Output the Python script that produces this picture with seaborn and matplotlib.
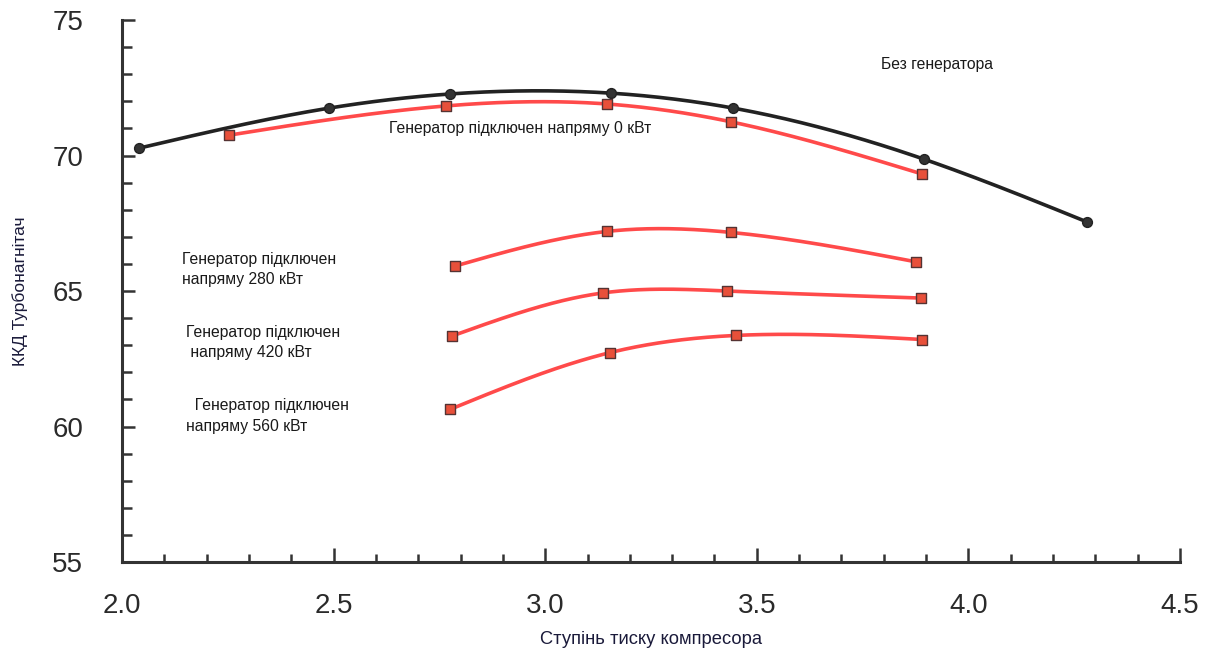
import numpy as np
import pandas as pd
import matplotlib
matplotlib.use("Agg")
import matplotlib.pyplot as plt
from matplotlib.ticker import MultipleLocator, FormatStrFormatter
import seaborn as sns

# --- data ---
x_nogen = [2.04, 2.49, 2.775, 3.156, 3.444, 3.894, 4.28]
y_nogen = [70.27, 71.75, 72.27, 72.30, 71.75, 69.87, 67.55]

x_0kw = [2.253, 2.766, 3.147, 3.44, 3.89]
y_0kw = [70.75, 71.83, 71.90, 71.24, 69.32]

x_280 = [2.787, 3.147, 3.44, 3.875]
y_280 = [65.92, 67.20, 67.16, 66.08]

x_420 = [2.78, 3.137, 3.43, 3.887]
y_420 = [63.34, 64.93, 65.00, 64.74]

x_560 = [2.775, 3.154, 3.45, 3.89]
y_560 = [60.63, 62.73, 63.36, 63.21]

labels = ["Без генератора",
          "Генератор підключен напряму 0 кВт",
          "Генератор підключен\nнапряму 280 кВт",
          "Генератор підключен\n напряму 420 кВт",
          "  Генератор підключен\nнапряму 560 кВт"]

xlabel = "Ступінь тиску компресора"
ylabel = "ККД Турбонагнітач"


def natural_spline(xs, ys, xx):
    """Natural cubic spline through the data points (for a smooth drawn curve)."""
    xs = np.asarray(xs, float); ys = np.asarray(ys, float)
    n = len(xs)
    h = np.diff(xs)
    A = np.zeros((n, n)); b = np.zeros(n)
    A[0, 0] = A[-1, -1] = 1.0
    for i in range(1, n - 1):
        A[i, i - 1] = h[i - 1]
        A[i, i] = 2 * (h[i - 1] + h[i])
        A[i, i + 1] = h[i]
        b[i] = 3 * ((ys[i + 1] - ys[i]) / h[i] - (ys[i] - ys[i - 1]) / h[i - 1])
    c = np.linalg.solve(A, b)
    out = np.empty_like(xx)
    idx = np.clip(np.searchsorted(xs, xx) - 1, 0, n - 2)
    for k, (xv, i) in enumerate(zip(xx, idx)):
        bi = (ys[i + 1] - ys[i]) / h[i] - h[i] * (2 * c[i] + c[i + 1]) / 3
        di = (c[i + 1] - c[i]) / (3 * h[i])
        t = xv - xs[i]
        out[k] = ys[i] + bi * t + c[i] * t ** 2 + di * t ** 3
    return out


sns.set_style("white")
plt.rcParams['font.family'] = ['Liberation Sans', 'DejaVu Sans']

fig = plt.figure(figsize=(12.07, 6.5), dpi=100)
ax = fig.add_axes([122/1207, 88/650, 1058/1207, 542/650])

series = [(x_nogen, y_nogen, "#222222", "o", "#333333", "#222222"),
          (x_0kw, y_0kw, "#ff4a4a", "s", "#e8503a", "#553333"),
          (x_280, y_280, "#ff4a4a", "s", "#e8503a", "#553333"),
          (x_420, y_420, "#ff4a4a", "s", "#e8503a", "#553333"),
          (x_560, y_560, "#ff4a4a", "s", "#e8503a", "#553333")]

for xs, ys, lc, mk, mc, ec in series:
    xx = np.linspace(min(xs), max(xs), 300)
    df = pd.DataFrame({"x": xx, "y": natural_spline(xs, ys, xx)})
    sns.lineplot(data=df, x="x", y="y", ax=ax, color=lc, lw=2.6, zorder=2)
    sns.scatterplot(x=xs, y=ys, ax=ax, marker=mk, s=60 if mk == "s" else 50,
                    color=mc, edgecolor=ec, linewidth=1.0, zorder=3)

ax.set_xlim(2.0, 4.5)
ax.set_ylim(55, 75)
ax.xaxis.set_major_locator(MultipleLocator(0.5))
ax.xaxis.set_minor_locator(MultipleLocator(0.1))
ax.yaxis.set_major_locator(MultipleLocator(5))
ax.yaxis.set_minor_locator(MultipleLocator(1))
ax.xaxis.set_major_formatter(FormatStrFormatter("%.1f"))

for s in ["top", "right"]:
    ax.spines[s].set_visible(False)
for s in ["left", "bottom"]:
    ax.spines[s].set_color("#333333")
    ax.spines[s].set_linewidth(2.2)

ax.tick_params(axis="both", which="both", direction="in", color="#333333", width=1.8,
               bottom=True, left=True, top=False, right=False)
ax.tick_params(axis="x", which="major", length=10, pad=22, labelsize=20, labelcolor="#2a2a2a")
ax.tick_params(axis="x", which="minor", length=6)
ax.tick_params(axis="y", which="major", length=9, pad=28, labelsize=20, labelcolor="#2a2a2a")
ax.tick_params(axis="y", which="minor", length=7)

ax.set_xlabel(xlabel, fontsize=13.2, color="#1a1a3a", labelpad=9)
ax.set_ylabel(ylabel, fontsize=12.5, color="#1a1a3a", labelpad=17)

tcol = "#1a1a1a"
fs = 11.3
ax.text(3.925, 73.34, labels[0], fontsize=fs, color=tcol, ha="center", va="center")
ax.text(2.94, 71.0, labels[1], fontsize=fs, color=tcol, ha="center", va="center")
ax.text(2.142, 65.79, labels[2], fontsize=fs, color=tcol, ha="left", va="center", linespacing=1.45)
ax.text(2.151, 63.10, labels[3], fontsize=fs, color=tcol, ha="left", va="center", linespacing=1.45)
ax.text(2.151, 60.39, labels[4], fontsize=fs, color=tcol, ha="left", va="center", linespacing=1.45)

fig.savefig("out.png", dpi=100)
